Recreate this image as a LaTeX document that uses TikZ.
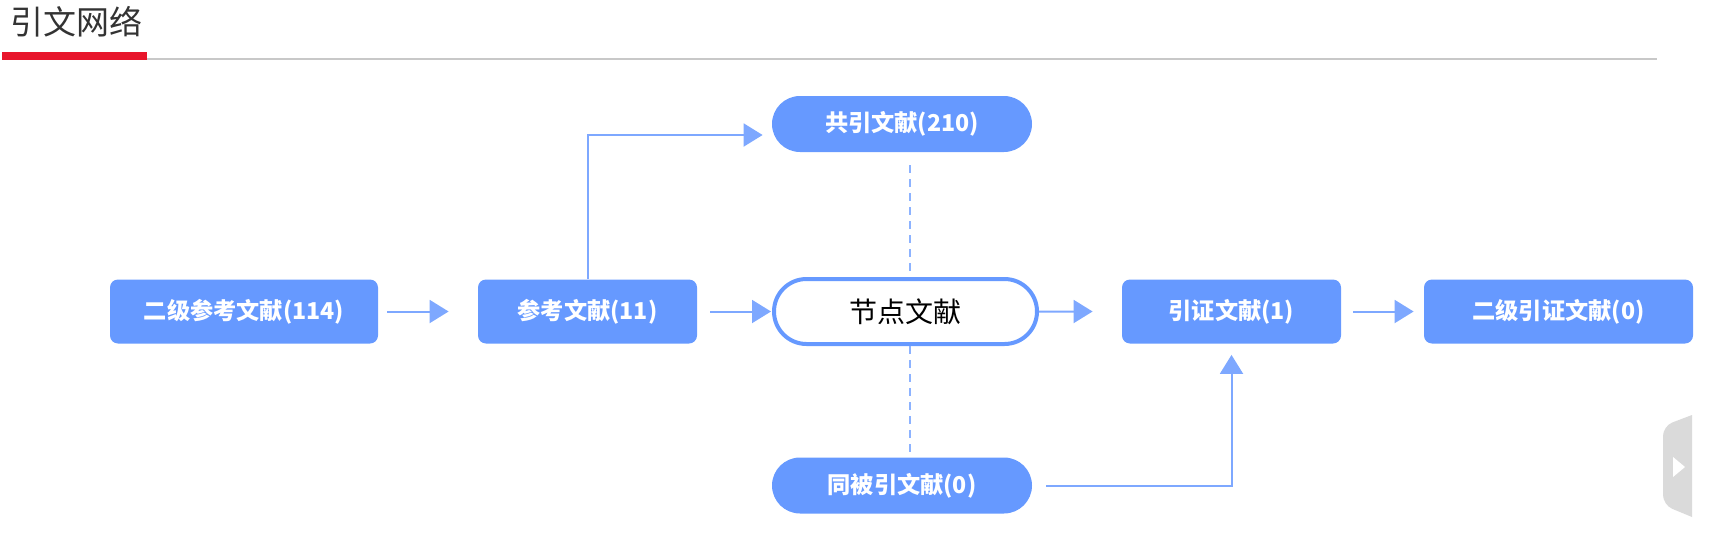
\documentclass[tikz,border=0pt]{standalone}
\usepackage{fontspec}
\newfontfamily\cjk{Noto Sans CJK SC}
\usetikzlibrary{arrows.meta,shapes.misc,positioning}
\definecolor{boxblue}{HTML}{6699FF}
\definecolor{lineblue}{HTML}{7EA8FF}
\definecolor{dashblue}{HTML}{8DB3FF}
\definecolor{titlered}{HTML}{E8152B}
\definecolor{titletext}{HTML}{333333}
\definecolor{rulegrey}{HTML}{C8C8C8}
\definecolor{tabgrey}{HTML}{DADADA}

\begin{document}
\begin{tikzpicture}[x=0.5pt,y=-0.5pt,
    label text/.style={text=white,inner sep=0pt,font=\cjk\bfseries\fontsize{11.6}{13}\selectfont},
    box/.style={label text,fill=boxblue,rectangle,rounded corners=4pt,minimum height=32pt},
    pill/.style={label text,fill=boxblue,rounded rectangle,minimum width=130pt,minimum height=28pt},
    link/.style={lineblue,line width=1pt,-{Triangle[length=9.5pt,width=11.5pt]}},
    tie/.style={dashblue,line width=1pt,dash pattern=on 4pt off 3pt}]
    \useasboundingbox (0,0) rectangle (1726,552);

    % title bar
    \node[anchor=west,inner sep=0pt,text=titletext,font=\cjk\fontsize{16.5}{18}\selectfont] (title) at (10,22) {引文网络};
    \fill[rulegrey] (147,58) rectangle (1657,60);
    \fill[titlered] (2,52) rectangle (147,60);

    % middle row
    \node[box,minimum width=134pt] (l2ref) at (244,311.5) {二级参考文献(114)};
    \node[box,minimum width=109.5pt] (ref) at (587.5,311.5) {参考文献(11)};
    \node[pill,draw=boxblue,fill=white,line width=2pt,minimum width=131.5pt,minimum height=32.5pt,
          text=black,font=\cjk\fontsize{14}{16}\selectfont] (focal) at (905.5,311.5) {节点文献};
    \node[box,minimum width=109.5pt] (cite) at (1231.5,311.5) {引证文献(1)};
    \node[box,minimum width=134.5pt] (l2cite) at (1558.5,311.5) {二级引证文献(0)};

    % top and bottom
    \node[pill] (cocite) at (902,124) {共引文献(210)};
    \node[pill] (cocited) at (902,485.5) {同被引文献(0)};

    \draw[link,shorten <=4.5pt,shorten >=14.5pt] (l2ref) -- (ref);
    \draw[link,shorten <=6.5pt,shorten >=0.5pt] (ref) -- (focal);
    \draw[link,shorten >=14.5pt] (focal) -- (cite);
    \draw[link,shorten <=6pt,shorten >=5pt] (cite) -- (l2cite);
    \draw[link,shorten >=4.5pt] (ref.north) |- ([yshift=-5.5pt]cocite.west);
    \draw[link,shorten <=7pt,shorten >=5.5pt] (cocited.east) -| (cite.south);

    \draw[tie] ([xshift=4pt,yshift=-6.5pt]cocite.south) -- ([xshift=4pt]cocite.south |- focal.north);
    \draw[tie] ([xshift=4pt]cocited.north |- focal.south) -- ([xshift=4pt,yshift=2.5pt]cocited.north);

    % side tab
    \fill[tabgrey] (1692,415) [rounded corners=5pt] -- (1663,426) -- (1663,505) [sharp corners] -- (1692,517) -- cycle;
    \fill[white] (1673,457) -- (1685,467) -- (1673,477) -- cycle;
\end{tikzpicture}
\end{document}
